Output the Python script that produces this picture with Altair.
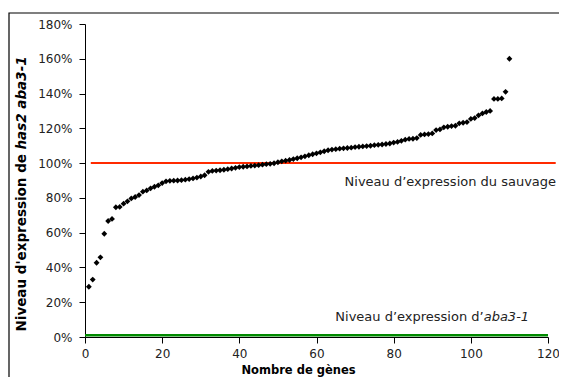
import altair as alt
import pandas as pd

# ---- data ----
genes = list(range(1, 111))
expression = [
    28.9, 33.0, 42.7, 45.8, 59.4, 66.7, 67.9, 74.6, 74.8, 76.7,
    78.0, 79.7, 80.5, 81.6, 83.6, 84.3, 85.5, 86.4, 87.2, 88.5,
    89.5, 89.8, 89.9, 90.0, 90.2, 90.5, 90.8, 91.2, 91.7, 92.3,
    93.0, 95.0, 95.5, 95.7, 95.9, 96.2, 96.5, 96.9, 97.3, 97.7,
    97.9, 98.1, 98.4, 98.6, 98.8, 99.1, 99.4, 99.6, 99.9, 100.5,
    101.0, 101.4, 101.8, 102.3, 102.8, 103.3, 103.9, 104.5, 105.1, 105.6,
    106.2, 106.8, 107.4, 107.8, 108.0, 108.3, 108.5, 108.7, 108.9, 109.2,
    109.4, 109.6, 109.8, 110.0, 110.3, 110.5, 110.7, 111.0, 111.3, 111.8,
    112.2, 112.8, 113.5, 113.9, 114.0, 114.4, 116.2, 116.5, 116.7, 117.1,
    119.0, 119.4, 120.6, 120.9, 121.3, 121.5, 122.9, 123.2, 123.6, 125.4,
    125.9, 127.5, 128.6, 129.4, 130.0, 136.9, 136.9, 137.2, 141.0, 160.0,
]
x_ticks = [0, 20, 40, 60, 80, 100, 120]
y_ticks = [0, 20, 40, 60, 80, 100, 120, 140, 160, 180]

wild_level = [100]
wild_x = [1.5]
wild_x2 = [122]
aba_level = [1]
aba_x = [0]
aba_x2 = [120]

wild_label = "Niveau d\u2019expression du sauvage"
aba_label_plain = "Niveau d\u2019expression d\u2019"
aba_label_italic = "aba3-1"
ytitle_plain = "Niveau d'expression de"
ytitle_italic = "has2 aba3-1"
xtitle = "Nombre de g\u00e8nes"

FONT = "DejaVu Sans"
W, H = 463, 313

df = pd.DataFrame({"gene": genes, "expr": expression})
xscale = alt.Scale(domain=[0, 120], nice=False, zero=False)
yscale = alt.Scale(domain=[0, 180], nice=False)

xaxis = alt.Axis(values=x_ticks, title=xtitle, titleX=213, titleY=33,
                 titleBaseline="middle", titleAlign="center",
                 titleFont=FONT, titleFontSize=11.5, titleFontWeight="bold",
                 titleColor="black", labelPadding=5, labelFlush=False,
                 labelOverlap=False)
yaxis = alt.Axis(values=y_ticks, labelExpr="datum.value + '%'", title=None,
                 labelPadding=7, labelFlush=False, labelOverlap=False)


def xenc(field):
    return alt.X(field, scale=xscale, axis=xaxis)


def yenc(field):
    return alt.Y(field, scale=yscale, axis=yaxis)


points = alt.Chart(df).mark_point(
    shape="diamond", filled=True, color="black", size=34, opacity=1
).encode(x=xenc("gene:Q"), y=yenc("expr:Q"))

wild_df = pd.DataFrame({"x": wild_x, "x2": wild_x2, "y": wild_level})
wild_rule = alt.Chart(wild_df).mark_rule(color="#ff2a00", strokeWidth=2, clip=False).encode(
    x=xenc("x:Q"), x2="x2:Q", y=yenc("y:Q")
)
aba_df = pd.DataFrame({"x": aba_x, "x2": aba_x2, "y": aba_level})
aba_rule = alt.Chart(aba_df).mark_rule(color="#008a00", strokeWidth=2.5, clip=False).encode(
    x=xenc("x:Q"), x2="x2:Q", y=yenc("y:Q")
)

lab_df = pd.DataFrame({"x": [122.1], "y": [89.3], "t": [wild_label]})
wild_text = alt.Chart(lab_df).mark_text(
    align="right", baseline="middle", font=FONT, fontSize=13, color="#222", clip=False
).encode(x=xenc("x:Q"), y=yenc("y:Q"), text="t:N")

aba_df_t = pd.DataFrame({"x": [115.1], "y": [11.5], "t": [aba_label_italic], "p": [aba_label_plain]})
aba_text_i = alt.Chart(aba_df_t).mark_text(
    align="right", baseline="middle", font=FONT, fontSize=13, fontStyle="italic",
    color="#222", clip=False
).encode(x=xenc("x:Q"), y=yenc("y:Q"), text="t:N")
aba_text_p = alt.Chart(aba_df_t).mark_text(
    align="right", baseline="middle", font=FONT, fontSize=13, dx=-45.4,
    color="#222", clip=False
).encode(x=xenc("x:Q"), y=yenc("y:Q"), text="p:N")

one = pd.DataFrame({"a": [0]})
# two parts of the y title meet at one junction point
ytitle_a = alt.Chart(one).mark_text(
    angle=270, align="right", baseline="middle", font=FONT, fontSize=13.5,
    fontWeight="bold", color="black"
).encode(x=alt.value(-63), y=alt.value(130), text=alt.value(ytitle_plain))
ytitle_b = alt.Chart(one).mark_text(
    angle=270, align="left", baseline="middle", font=FONT, fontSize=13.5, dx=4.5,
    fontWeight="bold", fontStyle="italic", color="black"
).encode(x=alt.value(-63), y=alt.value(130), text=alt.value(ytitle_italic))

frame = alt.Chart(one).mark_rect(fill=None, stroke="black", strokeWidth=1.2, clip=False).encode(
    x=alt.value(-76), x2=alt.value(W + 30), y=alt.value(-11), y2=alt.value(H + 60)
)

chart = alt.layer(
    frame, aba_rule, wild_rule, points, wild_text, aba_text_p, aba_text_i, ytitle_a, ytitle_b
).properties(
    width=W, height=H, autosize="none",
    padding={"left": 77, "top": 16, "right": 11, "bottom": 40},
).configure_view(stroke=None).configure_axis(
    grid=False, domainColor="black", tickColor="black", tickSize=6,
    labelFont=FONT, labelFontSize=12, labelColor="#222", labelOverlap=False,
)

chart.save("out.html", embed_options={"renderer": "svg", "actions": False})
